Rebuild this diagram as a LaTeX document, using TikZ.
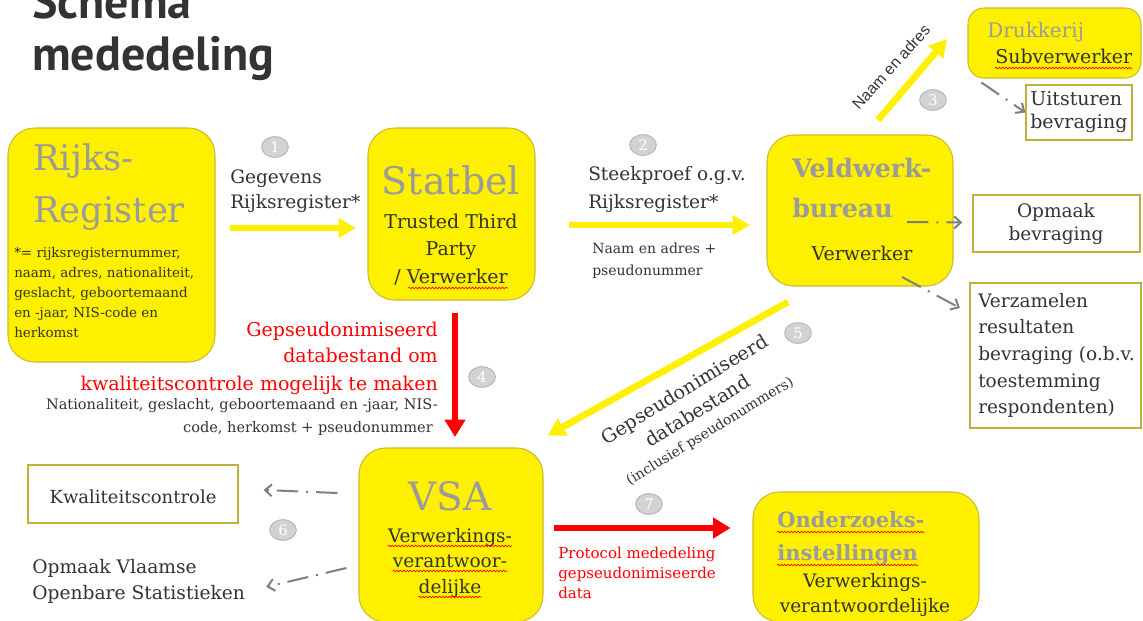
\documentclass[tikz,border=0pt]{standalone}
\usepackage{fontspec}
\setmainfont{DejaVu Serif}
\newfontfamily\titlefont{PT Sans}
\newfontfamily\labelsans{Liberation Sans}
\usetikzlibrary{arrows.meta,fit,decorations.pathmorphing,calc,shapes.geometric}
\definecolor{vyellow}{HTML}{FFF000}
\definecolor{vborder}{HTML}{CDBB2A}
\definecolor{wborder}{HTML}{BFB23A}
\definecolor{vgray}{HTML}{9B9B9B}
\definecolor{vdark}{HTML}{333333}
\definecolor{vred}{HTML}{FF0000}
\definecolor{ngray}{HTML}{D2D2D2}
\definecolor{ngrayb}{HTML}{B5B5B5}
\definecolor{dgray}{HTML}{7F7F7F}
\definecolor{ttl}{HTML}{333333}
\tikzset{
  ybox/.style={draw=vborder, fill=vyellow, line width=0.8pt, rounded corners=20pt, inner sep=0pt},
  wbox/.style={draw=wborder, fill=white, line width=1pt, inner sep=0pt},
  tx/.style={inner sep=0pt, text=vdark},
  gt/.style={inner sep=0pt, text=vgray},
  rt/.style={inner sep=0pt, text=vred},
  num/.style={ellipse, draw=ngrayb, fill=ngray, line width=0.7pt, text=white, minimum width=20pt, minimum height=15.5pt, inner sep=0pt, font=\fontsize{11}{12}\selectfont},
  yarrow/.style={draw=vyellow, line width=5pt, -{Triangle[length=13pt,width=14pt]}},
  rarrow/.style={draw=vred, line width=4.5pt, -{Triangle[length=13pt,width=15pt]}},
  darrow/.style={draw=dgray, line width=1.5pt, dash pattern=on 16pt off 6pt on 1.5pt off 6pt, -{Straight Barb[length=5pt,width=9pt]}},
  wavy/.style={draw=red, line width=0.5pt, decorate, decoration={snake, amplitude=0.6pt, segment length=2.5pt}},
  ttlstyle/.style={inner sep=0pt, text=ttl, font=\titlefont\bfseries\fontsize{36}{40}\selectfont}
}
\begin{document}
\begin{tikzpicture}[x=0.75pt,y=-0.75pt]
\useasboundingbox (0,0) rectangle (1143,621);
\fill[white] (0,0) rectangle (1143,621);

% title
\node[ttlstyle, anchor=base west] (title1) at (32,18) {Schema};
\node[ttlstyle, anchor=base west] (title2) at (32,70) {mededeling};

% Rijksregister
\node[ybox, fit={(8,128) (215,362)}] (rr) {};
\node[gt, anchor=base west, font=\fontsize{26.5}{30}\selectfont] (rr1) at (33,170) {Rijks-};
\node[gt, anchor=base west, font=\fontsize{26.5}{30}\selectfont] (rr2) at (33,222) {Register};
\tikzset{small/.style={tx, anchor=base west, font=\fontsize{10.1}{12}\selectfont}}
\node[small] (rrs1) at (14,257) {*= rijksregisternummer,};
\node[small] (rrs2) at (14,277) {naam, adres, nationaliteit,};
\node[small] (rrs3) at (14,297) {geslacht, geboortemaand};
\node[small] (rrs4) at (14,317) {en -jaar, NIS-code en};
\node[small] (rrs5) at (14,337) {herkomst};

% arrow 1
\node[num] (n1) at (275,147) {1};
\tikzset{lbl/.style={tx, anchor=base west, font=\fontsize{13.9}{16}\selectfont}}
\node[lbl] (l1a) at (230,183) {Gegevens};
\node[lbl] (l1b) at (230,208) {Rijksregister*};
\coordinate (a1s) at (230,228);
\coordinate (a1e) at (356,228);
\draw[yarrow] (a1s) -- (a1e);

% Statbel
\node[ybox, fit={(368,128) (535,300)}] (sb) {};
\node[gt, anchor=base, font=\fontsize{28.5}{32}\selectfont] (sb0) at (451,194) {Statbel};
\tikzset{mid/.style={tx, anchor=base, font=\fontsize{14.25}{17}\selectfont}}
\node[mid] (sb1) at (451,228) {Trusted Third};
\node[mid] (sb2) at (451,255) {Party};
\node[mid] (sb3) at (451,283) {/ Verwerker};
\draw[wavy] ($(sb3.base west)+(14,5)$) -- ($(sb3.base east)+(0,5)$);

% arrow 2
\node[num] (n2) at (643,145) {2};
\node[lbl] (l2a) at (588,180) {Steekproef o.g.v.};
\node[lbl] (l2b) at (588,208) {Rijksregister*};
\node[tx, anchor=base west, font=\fontsize{10.5}{12}\selectfont] (l2c) at (592,253) {Naam en adres +};
\node[tx, anchor=base west, font=\fontsize{10.5}{12}\selectfont] (l2d) at (592,275) {pseudonummer};
\coordinate (a2s) at (569,225);
\coordinate (a2e) at (750,225);
\draw[yarrow] (a2s) -- (a2e);

% Veldwerkbureau
\node[ybox, fit={(767,135) (953,286)}] (vw) {};
\node[gt, anchor=base west, font=\bfseries\fontsize{19}{22}\selectfont] (vw1) at (792,177) {Veldwerk-};
\node[gt, anchor=base west, font=\bfseries\fontsize{19}{22}\selectfont] (vw2) at (792,217) {bureau};
\node[mid] (vw3) at (862,260) {Verwerker};

% Drukkerij
\node[ybox, rounded corners=12pt, fit={(968,8) (1141,78)}] (dk) {};
\node[gt, anchor=base west, font=\fontsize{15}{18}\selectfont] (dk1) at (987,37) {Drukkerij};
\node[tx, anchor=base west, font=\fontsize{14.25}{17}\selectfont] (dk2) at (995,63) {Subverwerker};
\draw[wavy] ($(dk2.base west)+(0,5)$) -- ($(dk2.base east)+(0,5)$);

% arrow 3
\coordinate (a3s) at (878,120);
\coordinate (a3e) at (947,39);
\draw[yarrow] (a3s) -- (a3e);
\node[tx, rotate=48, font=\labelsans\fontsize{11.8}{14}\selectfont] (l3) at (891,67) {Naam en adres};
\node[num] (n3) at (933,100) {3};

% Uitsturen
\node[wbox, fit={(1026,85) (1132,140)}] (ui) {};
\node[tx, anchor=base west, font=\fontsize{14.25}{17}\selectfont] (ui1) at (1030,105) {Uitsturen};
\node[tx, anchor=base west, font=\fontsize{14.25}{17}\selectfont] (ui2) at (1030,128) {bevraging};
\draw[darrow] ($(dk.south west)+(14,4)$) -- (ui.west);

% Opmaak bevraging
\node[wbox, fit={(973,195) (1140,252)}] (ob) {};
\node[tx, anchor=base, font=\fontsize{13.9}{17}\selectfont] (ob1) at (1056,217) {Opmaak};
\node[tx, anchor=base, font=\fontsize{13.9}{17}\selectfont] (ob2) at (1056,240) {bevraging};
\coordinate (a8s) at (907,222);
\draw[darrow] (a8s) -- ($(ob.west)+(-10,-1)$);

% Verzamelen
\node[wbox, fit={(970,283) (1141,428)}] (vz) {};
\tikzset{vzt/.style={tx, anchor=base west, font=\fontsize{13.9}{17}\selectfont}}
\node[vzt] (vz1) at (978,307) {Verzamelen};
\node[vzt] (vz2) at (978,333) {resultaten};
\node[vzt] (vz3) at (978,360) {bevraging (o.b.v.};
\node[vzt] (vz4) at (978,387) {toestemming};
\node[vzt] (vz5) at (978,413) {respondenten)};
\coordinate (a9s) at (902,277);
\coordinate (a9e) at (960,308);
\draw[darrow] (a9s) -- (a9e);

% arrow 4
\coordinate (a4s) at (455,313);
\coordinate (a4e) at (455,437);
\draw[rarrow] (a4s) -- (a4e);
\node[num] (n4) at (482,377) {4};
\tikzset{r4/.style={rt, anchor=base east, font=\fontsize{14.25}{17}\selectfont}}
\node[r4] (r41) at (438,336) {Gepseudonimiseerd};
\node[r4] (r42) at (438,362) {databestand om};
\node[r4] (r43) at (438,390) {kwaliteitscontrole mogelijk te maken};
\node[tx, anchor=base east, font=\fontsize{10.9}{13}\selectfont] (r44) at (438,409) {Nationaliteit, geslacht, geboortemaand en -jaar, NIS-};
\node[tx, anchor=base east, font=\fontsize{10.9}{13}\selectfont] (r45) at (433,432) {code, herkomst + pseudonummer};

% VSA
\node[ybox, fit={(359,448) (543,622)}] (vsa) {};
\node[gt, anchor=base, font=\fontsize{29.25}{33}\selectfont] (vsa0) at (450,510) {VSA};
\tikzset{vt/.style={tx, anchor=base, font=\fontsize{13.9}{17}\selectfont}}
\node[vt] (vsa1) at (450,542) {Verwerkings-};
\node[vt] (vsa2) at (450,567) {verantwoor-};
\node[vt] (vsa3) at (450,593) {delijke};
\foreach \n in {vsa1,vsa2,vsa3}{
  \draw[wavy] ($(\n.base west)+(0,4)$) -- ($(\n.base east)+(0,4)$);
}

% arrow 5
\coordinate (a5s) at (788,302);
\draw[yarrow] (a5s) -- ($(vsa.north east)+(4,-12)$);
\node[num] (n5) at (798,333) {5};
\node[tx, rotate=31.5, align=center, font=\fontsize{14.25}{19}\selectfont] (l5) at (697,410)
  {Gepseudonimiseerd\\databestand\\[-3pt]{\fontsize{10.5}{12}\selectfont (inclusief pseudonummers)}};

% Kwaliteitscontrole
\node[wbox, fit={(28,465) (238,523)}] (kc) {};
\node[tx, anchor=base, font=\fontsize{13.5}{16}\selectfont] (kc1) at (133,503) {Kwaliteitscontrole};
\draw[darrow] ($(vsa.west)+(-21,-42)$) -- ($(kc.east)+(25,-4)$);
\node[num] (n6) at (283,530) {6};
\node[tx, anchor=base west, font=\fontsize{14}{17}\selectfont] (ov1) at (32,573) {Opmaak Vlaamse};
\node[tx, anchor=base west, font=\fontsize{14}{17}\selectfont] (ov2) at (32,599) {Openbare Statistieken};
\draw[darrow] ($(vsa.west)+(-12,33)$) -- ($(ov2.east)+(21,-7)$);

% arrow 7
\node[ybox, fit={(753,492) (979,622)}] (oz) {};
\draw[rarrow] ($(vsa.east)+(10,-7)$) -- ($(oz.west)+(-22,-29)$);
\node[num] (n7) at (649,504) {7};
\tikzset{r7/.style={rt, anchor=base west, font=\fontsize{11.25}{13}\selectfont}}
\node[r7] (p1) at (558,558) {Protocol mededeling};
\node[r7] (p2) at (558,578) {gepseudonimiseerde};
\node[r7] (p3) at (558,598) {data};

% Onderzoeksinstellingen
\node[gt, anchor=base west, font=\bfseries\fontsize{15.75}{19}\selectfont] (oz1) at (777,527) {Onderzoeks-};
\node[gt, anchor=base west, font=\bfseries\fontsize{15.75}{19}\selectfont] (oz2) at (777,560) {instellingen};
\foreach \n in {oz1,oz2}{
  \draw[wavy] ($(\n.base west)+(0,5)$) -- ($(\n.base east)+(0,5)$);
}
\node[vt] (oz3) at (865,587) {Verwerkings-};
\node[vt] (oz4) at (865,612) {verantwoordelijke};
\end{tikzpicture}
\end{document}
